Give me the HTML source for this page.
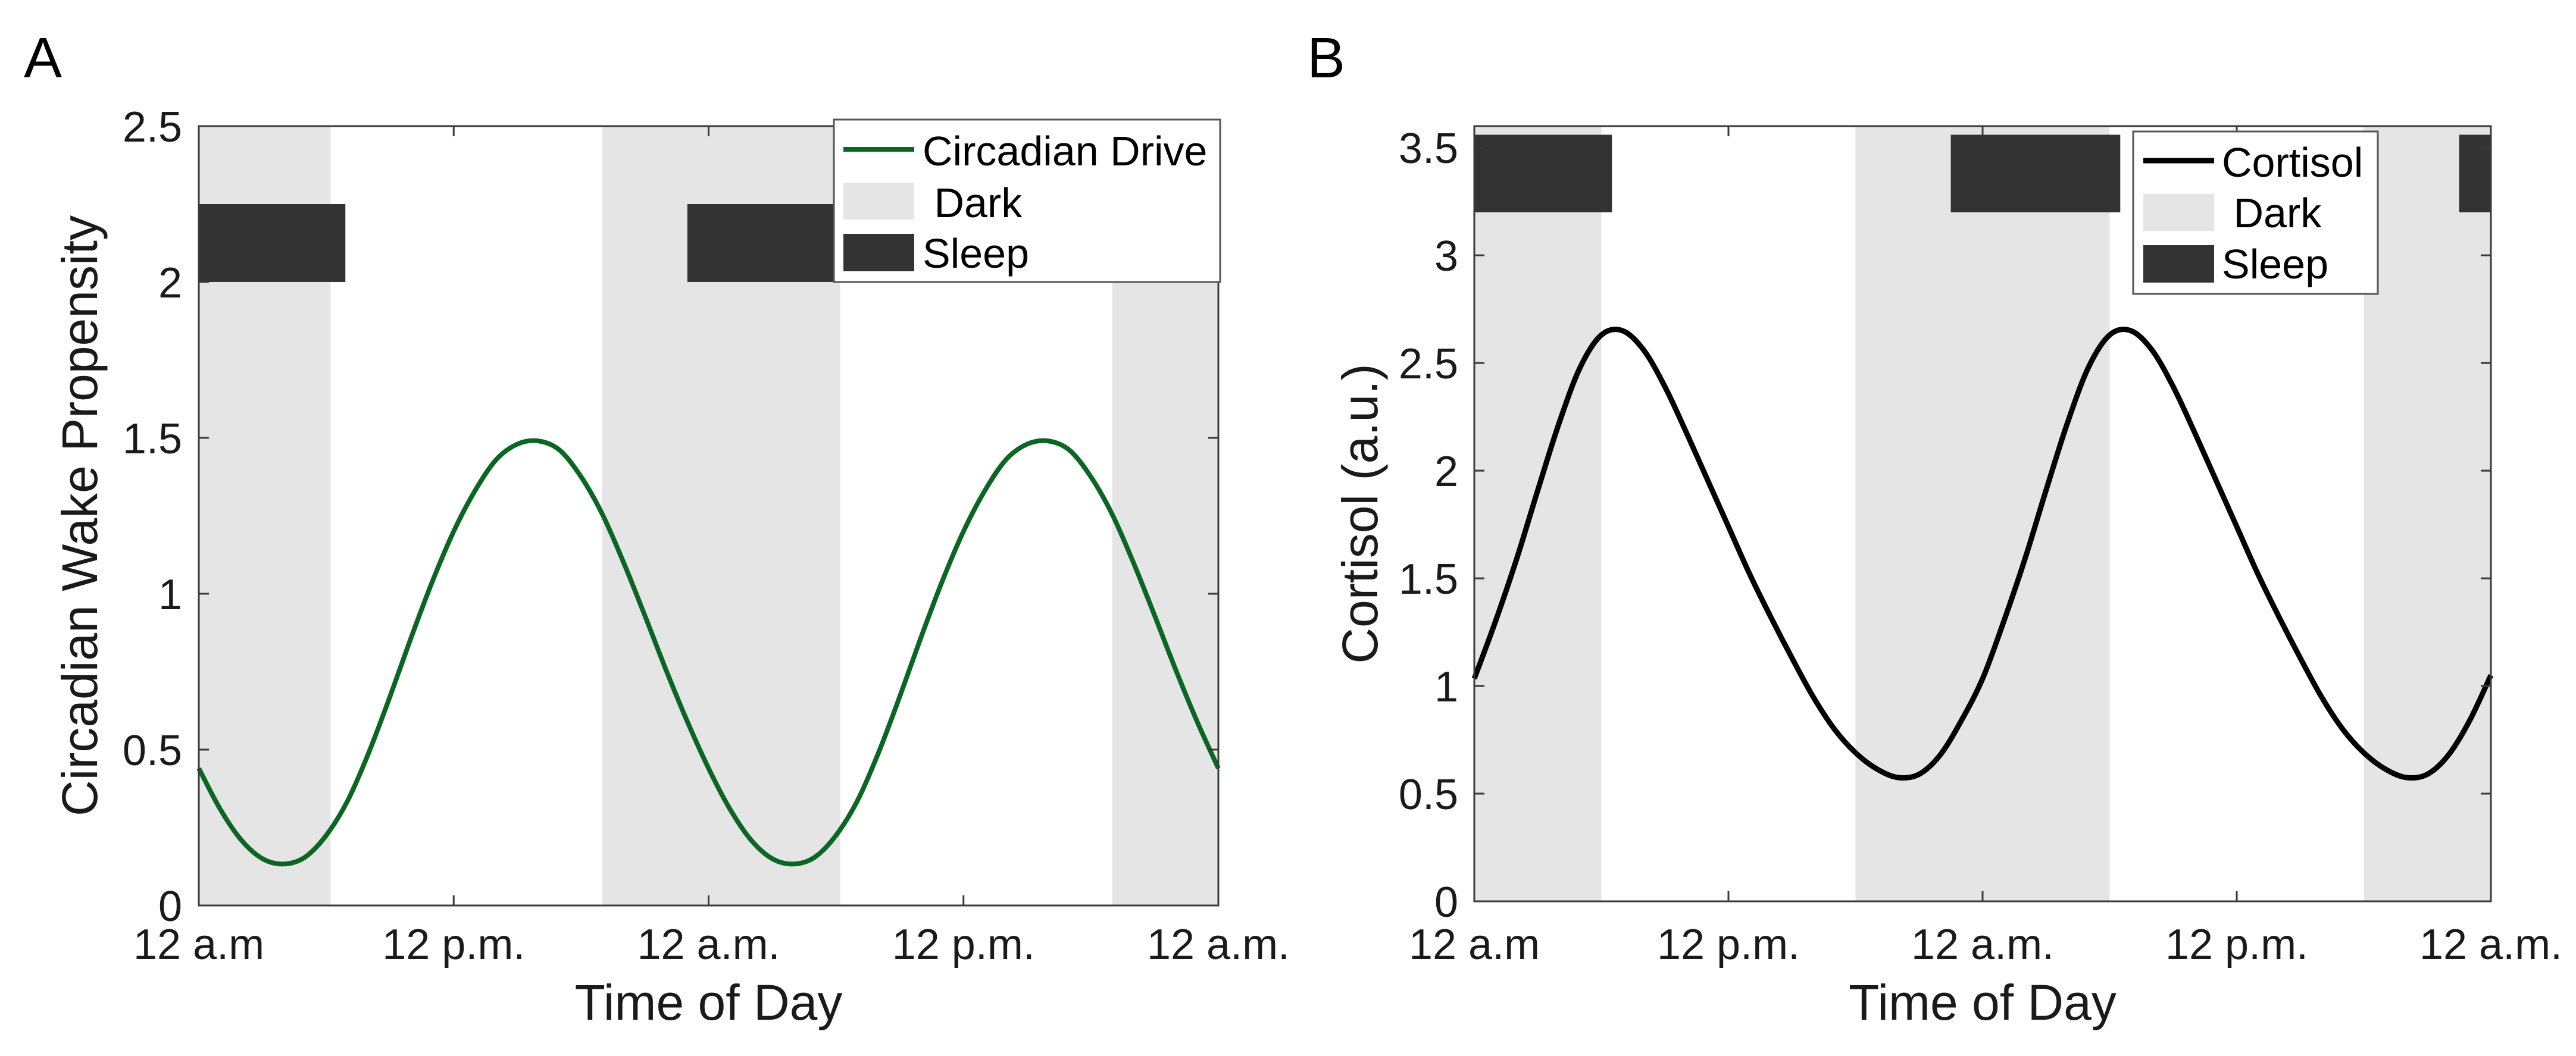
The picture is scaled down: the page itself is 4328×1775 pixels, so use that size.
<!DOCTYPE html>
<html><head><meta charset="utf-8"><style>
html,body{margin:0;padding:0;background:#fff;}
svg{display:block;font-family:"Liberation Sans",Arial,sans-serif;}
</style></head><body>
<svg id="fig" width="4328" height="1775" viewBox="0 0 4328 1775" xmlns="http://www.w3.org/2000/svg">
<rect x="0" y="0" width="4328" height="1775" fill="#fff"/>
<text x="40" y="130" font-size="96" fill="#000">A</text>
<text x="2196" y="130" font-size="96" fill="#000">B</text>
<g id="panelA"></g>
<g id="panelB"></g>
</svg>
<script>
// ---- shared data ----
const hours = [0,1,2,3,4,5,6,7,8,9,10,11,12,13,14,15,16,17,18,19,20,21,22,23,24,25,26,27,28,29,30,31,32,33,34,35,36,37,38,39,40,41,42,43,44,45,46,47,48];
const xTickHours = [0,12,24,36,48];
const xTickLabels = ["12 a.m","12 p.m.","12 a.m.","12 p.m.","12 a.m."];

// ---- panel A data ----
const circadianValues = [0.44,0.31,0.21,0.15,0.133,0.155,0.225,0.335,0.49,0.67,0.86,1.04,1.20,1.33,1.43,1.48,1.49,1.46,1.375,1.255,1.10,0.93,0.755,0.59,
                         0.44,0.31,0.21,0.15,0.133,0.155,0.225,0.335,0.49,0.67,0.86,1.04,1.20,1.33,1.43,1.48,1.49,1.46,1.375,1.255,1.10,0.93,0.755,0.59,0.44];
const darkStartA = [-5,19,43];
const darkEndA = [6.2,30.2,54.2];
const sleepStartA = [-1,23,47];
const sleepEndA = [6.9,30.9,54.9];
const sleepBandA = [2.0,2.25];
const yTicksA = [0,0.5,1,1.5,2,2.5];
const yTickLabelsA = ["0","0.5","1","1.5","2","2.5"];

// ---- panel B data ----
const cortisolValues = [1.034,1.30,1.59,1.91,2.22,2.48,2.63,2.65,2.56,2.39,2.18,1.96,1.74,1.52,1.32,1.13,0.95,0.80,0.69,0.615,0.575,0.59,0.68,0.84,
                        1.034,1.30,1.59,1.91,2.22,2.48,2.63,2.65,2.56,2.39,2.18,1.96,1.74,1.52,1.32,1.13,0.95,0.80,0.69,0.615,0.575,0.59,0.68,0.84,1.05];
const darkStartB = [-6,18,42];
const darkEndB = [6,30,54];
const sleepStartB = [-1.5,22.5,46.5];
const sleepEndB = [6.5,30.5,54.5];
const sleepBandB = [3.2,3.56];
const yTicksB = [0,0.5,1,1.5,2,2.5,3,3.5];
const yTickLabelsB = ["0","0.5","1","1.5","2","2.5","3","3.5"];

const NS = "http://www.w3.org/2000/svg";
function mk(tag, attrs, parent){
  const e = document.createElementNS(NS, tag);
  for (const k in attrs) e.setAttribute(k, attrs[k]);
  parent.appendChild(e);
  return e;
}

function drawPanel(g, cfg){
  const L=cfg.left, R=cfg.right, T=cfg.top, B=cfg.bottom;
  const xs = h => L + (Math.max(0,Math.min(48,h))/48)*(R-L);
  const ys = v => B - (v/cfg.ymax)*(B-T);

  for (let i=0;i<cfg.darkStart.length;i++){
    const x1=xs(cfg.darkStart[i]), x2=xs(cfg.darkEnd[i]);
    if (x2<=x1) continue;
    const r = mk('rect',{x:x1,y:T,width:x2-x1,height:B-T,fill:'#e5e5e5'},g);
    
    
  }
  for (let i=0;i<cfg.sleepStart.length;i++){
    const x1=xs(cfg.sleepStart[i]), x2=xs(cfg.sleepEnd[i]);
    if (x2<=x1) continue;
    const r = mk('rect',{x:x1,y:ys(cfg.sleepBand[1]),width:x2-x1,height:ys(cfg.sleepBand[0])-ys(cfg.sleepBand[1]),fill:'#333333'},g);
    
    
  }
  const pts = hours.map((h,i)=>[xs(h), ys(cfg.values[i])]);
  let d = 'M'+pts[0][0]+','+pts[0][1];
  for (let i=0;i<pts.length-1;i++){
    const p0=pts[Math.max(0,i-1)], p1=pts[i], p2=pts[i+1], p3=pts[Math.min(pts.length-1,i+2)];
    const c1x=p1[0]+(p2[0]-p0[0])/6, c1y=p1[1]+(p2[1]-p0[1])/6;
    const c2x=p2[0]-(p3[0]-p1[0])/6, c2y=p2[1]-(p3[1]-p1[1])/6;
    d += ' C'+c1x+','+c1y+' '+c2x+','+c2y+' '+p2[0]+','+p2[1];
  }
  const line = mk('path',{d:d,fill:'none',stroke:cfg.color,'stroke-width':cfg.lw,'stroke-linejoin':'round'},g);
  
  

  const box = mk('rect',{x:L,y:T,width:R-L,height:B-T,fill:'none',stroke:'#3a3a3a','stroke-width':3},g);
  
  

  for (let i=0;i<xTickHours.length;i++){
    const x=xs(xTickHours[i]);
    mk('line',{x1:x,y1:B,x2:x,y2:B-17,stroke:'#3a3a3a','stroke-width':3},g);
    mk('line',{x1:x,y1:T,x2:x,y2:T+17,stroke:'#3a3a3a','stroke-width':3},g);
    const t = mk('text',{x:x,y:1612,'font-size':72,'text-anchor':'middle',fill:'#1a1a1a'},g);
    t.textContent = xTickLabels[i];
    
    
  }
  for (let i=0;i<cfg.yTicks.length;i++){
    const y=ys(cfg.yTicks[i]);
    mk('line',{x1:L,y1:y,x2:L+17,y2:y,stroke:'#3a3a3a','stroke-width':3},g);
    mk('line',{x1:R,y1:y,x2:R-17,y2:y,stroke:'#3a3a3a','stroke-width':3},g);
    const t = mk('text',{x:cfg.yLabelX,y:y+26,'font-size':72,'text-anchor':'end',fill:'#1a1a1a'},g);
    t.textContent = cfg.yTickLabels[i];
    
    
  }
  const xt = mk('text',{x:(L+R)/2,y:1714,'font-size':84,'text-anchor':'middle',fill:'#1a1a1a'},g);
  xt.textContent = 'Time of Day';
  
  
  const cy=(T+B)/2;
  const yt = mk('text',{x:cfg.yTitleX,y:cy,'font-size':84,'text-anchor':'middle',fill:'#1a1a1a',transform:'rotate(-90 '+cfg.yTitleX+' '+cy+')'},g);
  yt.textContent = cfg.yTitle;
  
  

  const lg = cfg.legend;
  const lgG = mk('g',{},g);
  
  
  mk('rect',{x:lg.x,y:lg.y,width:lg.w,height:lg.h,fill:'#fff',stroke:'#555','stroke-width':3},lgG);
  mk('line',{x1:lg.sx,y1:lg.lineY,x2:lg.sx+119,y2:lg.lineY,stroke:cfg.color,'stroke-width':cfg.lw},lgG);
  mk('rect',{x:lg.sx,y:lg.darkY,width:119,height:62,fill:'#e5e5e5'},lgG);
  mk('rect',{x:lg.sx,y:lg.sleepY,width:119,height:63,fill:'#333333'},lgG);
  const names=[cfg.legendName,'\u00A0Dark','Sleep'], bl=lg.baselines;
  for (let i=0;i<3;i++){
    const t = mk('text',{x:lg.tx,y:bl[i],'font-size':70,fill:'#000'},lgG);
    t.textContent = names[i];
    
    
  }
}

drawPanel(document.getElementById('panelA'),{
  left:334,right:2047,top:212,bottom:1522,ymax:2.5,
  values:circadianValues,color:'#0b6623',lw:8,seriesName:'circadian-drive-line',
  darkStart:darkStartA,darkEnd:darkEndA,sleepStart:sleepStartA,sleepEnd:sleepEndA,sleepBand:sleepBandA,
  yTicks:yTicksA,yTickLabels:yTickLabelsA,yLabelX:306,yTitleX:163,yTitle:'Circadian Wake Propensity',
  legendName:'Circadian Drive',
  legend:{x:1401,y:201,w:649,h:273,sx:1417,lineY:251,darkY:307,sleepY:393,tx:1550,baselines:[278,365,450]}
});
drawPanel(document.getElementById('panelB'),{
  left:2477,right:4185,top:212,bottom:1515,ymax:3.6,
  values:cortisolValues,color:'#000000',lw:9,seriesName:'cortisol-line',
  darkStart:darkStartB,darkEnd:darkEndB,sleepStart:sleepStartB,sleepEnd:sleepEndB,sleepBand:sleepBandB,
  yTicks:yTicksB,yTickLabels:yTickLabelsB,yLabelX:2450,yTitleX:2314,yTitle:'Cortisol (a.u.)',
  legendName:'Cortisol',
  legend:{x:3584,y:221,w:411,h:273,sx:3601,lineY:270,darkY:326,sleepY:412,tx:3733,baselines:[297,382,468]}
});
</script>
</body></html>
